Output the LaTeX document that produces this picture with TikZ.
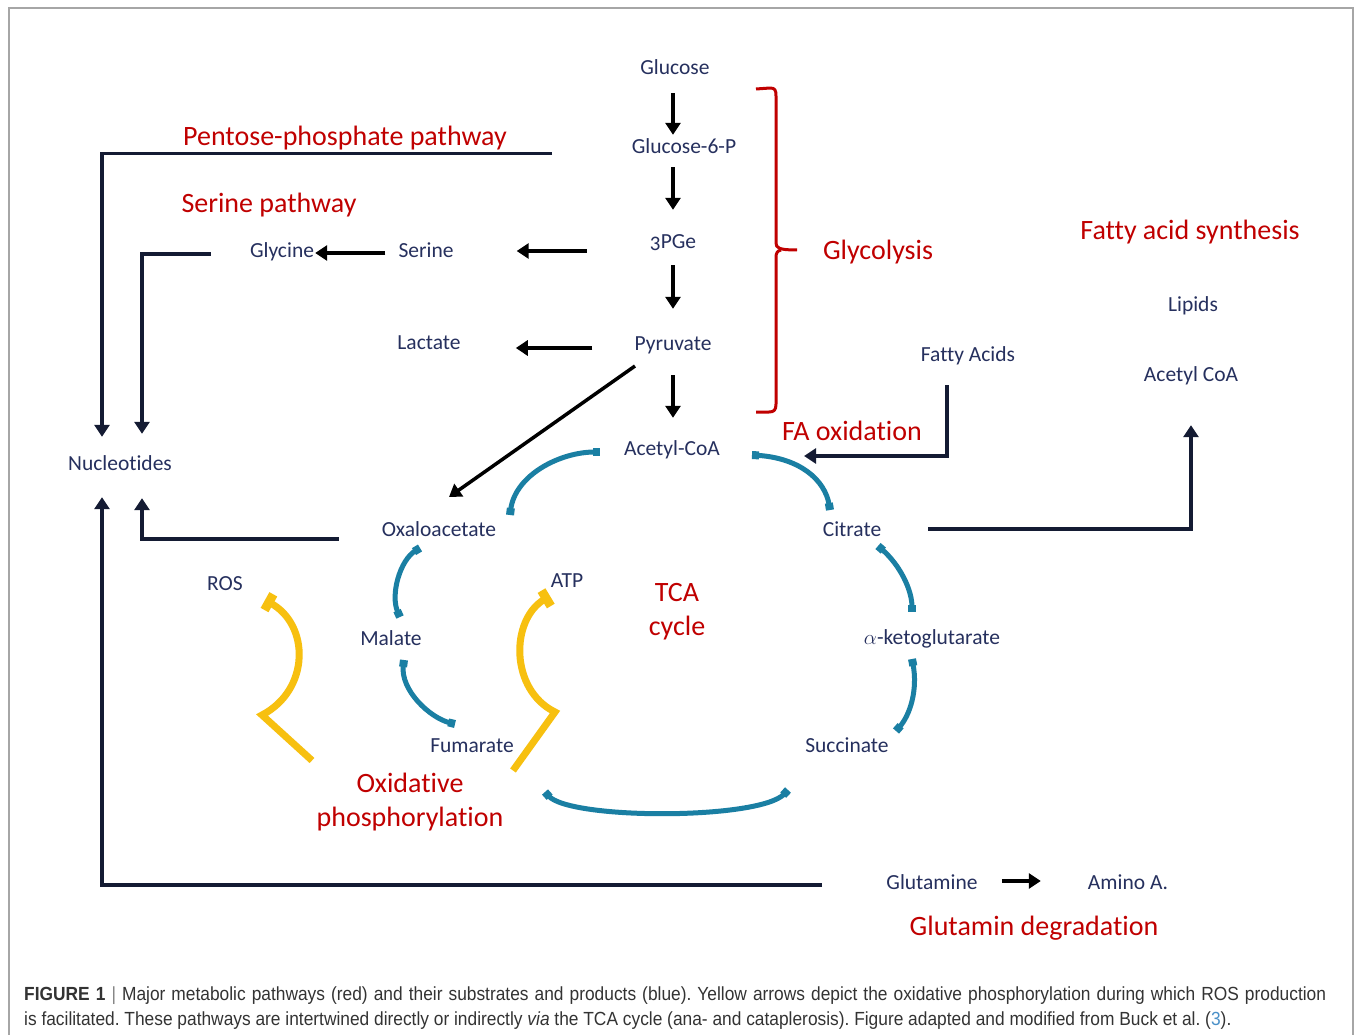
\documentclass[tikz,border=0pt]{standalone}
\usepackage{fontspec}
\setmainfont{Carlito}[Ligatures=NoCommon]
\newfontfamily\capfont[FakeStretch=0.913]{Liberation Sans}
\usetikzlibrary{arrows.meta,calc}
\definecolor{navy}{HTML}{26305E}
\definecolor{dred}{HTML}{C00000}
\definecolor{tealc}{HTML}{1A7FA3}
\definecolor{ylw}{HTML}{F7C010}
\definecolor{linec}{HTML}{141B33}
\definecolor{capc}{HTML}{333333}
\definecolor{capblue}{HTML}{4A90C8}
\frenchspacing
\begin{document}
\begin{tikzpicture}[x=1pt,y=-1pt,
  lbl/.style={text=navy,font=\fontsize{21.5}{24}\selectfont,inner sep=0pt,text height=18pt,text depth=2pt},
  pw/.style={text=dred,font=\fontsize{28}{34}\selectfont,inner sep=0pt,align=center,yshift=-2.5pt},
  blk/.style={draw=black,line width=3.5pt,-{Triangle[width=15pt,length=12pt]}},
  navyline/.style={draw=linec,line width=3.5pt,-{Triangle[width=15pt,length=12pt]}},
  tcaarc/.style={draw=tealc,line width=5pt,{Rectangle[length=7pt,width=8pt]}-{Rectangle[length=7pt,width=8pt]}},
  oxarr/.style={draw=ylw,line width=7pt,line join=miter,-{Rectangle[length=9pt,width=18pt]}},
  capline/.style={anchor=base west,inner sep=0pt,text=capc,font=\capfont\fontsize{19}{22}\selectfont}
]
\useasboundingbox (0,0) rectangle (1355,1035);
\fill[white] (0,0) rectangle (1355,1035);
\draw[gray!70,line width=1.5pt] (9,1035) -- (9,8) -- (1353,8) -- (1353,1035);

% substrates / products
\node[lbl] (glc) at (675,67) {Glucose};
\node[lbl] (g6p) at (684,146) {Glucose-6-P};
\node[lbl] (pge) at (673,241) {\addfontfeatures{Numbers=OldStyle}3PGe};
\node[lbl] (pyr) at (673,342) {Pyruvate};
\node[lbl] (acoa) at (672,447) {Acetyl-CoA};
\node[lbl] (ser) at (426,250) {Serine};
\node[lbl] (gly) at (282,250) {Glycine};
\node[lbl] (lac) at (429,341) {Lactate};
\node[lbl] (nuc) at (120,462) {Nucleotides};
\node[lbl] (oaa) at (439,528) {Oxaloacetate};
\node[lbl] (cit) at (852,528) {Citrate};
\node[lbl] (akg) at (932,636) {$\alpha$-ketoglutarate};
\node[lbl] (suc) at (847,744) {Succinate};
\node[lbl] (fum) at (472,744) {Fumarate};
\node[lbl] (mal) at (391,637) {Malate};
\node[lbl] (ros) at (225,582) {ROS};
\node[lbl] (atp) at (567,579) {ATP};
\node[lbl] (fa) at (968,353) {Fatty Acids};
\node[lbl] (lip) at (1193,303) {Lipids};
\node[lbl] (acoa2) at (1191,373) {Acetyl CoA};
\node[lbl] (gln) at (932,881) {Glutamine};
\node[lbl] (aa) at (1128,881) {Amino A.};

% pathways
\node[pw] (ppp) at (345,136) {Pentose-phosphate pathway};
\node[pw] (serp) at (269,203) {Serine pathway};
\node[pw] (glyc) at (878,250) {Glycolysis};
\node[pw] (fas) at (1190,230) {Fatty acid synthesis};
\node[pw] (fao) at (852,428) {FA oxidation};
\node[pw] (tca) at (677,609) {TCA\\cycle};
\node[pw] (oxp) at (410,800) {Oxidative\\phosphorylation};
\node[pw] (glnd) at (1034,926) {Glutamin degradation};

% glycolysis axis
\coordinate (ax) at (673,0);
\draw[blk,shorten <=16pt,shorten >=1pt] (glc.south -| ax) -- (g6p.north -| ax);
\draw[blk,shorten <=11pt,shorten >=21pt] (g6p.south -| ax) -- (pge.north -| ax);
\draw[blk,shorten <=14pt,shorten >=23pt] (pge.south -| ax) -- (pyr.north -| ax);
\draw[blk,shorten <=23pt,shorten >=19pt] (pyr.south -| ax) -- (acoa.north -| ax);

% side branches
\draw[blk] ($(pge.west |- ser.east)+(-63,1)$) -- ($(ser.east)+(63,1)$);
\draw[blk] ($(pyr.west)+(-42,6)$) -- ($(lac.east |- pyr.west)+(55,6)$);
\draw[blk] ($(ser.west)+(-13,3)$) -- ($(gly.east)+(1,3)$);
\draw[blk] ($(pyr)+(-38,24)$) -- ($(oaa)+(10,-31)$);

% fatty acids
\draw[navyline] ($(fa.south)+(-21,22)$) |- ($(acoa.east)+(84,9)$);
\draw[navyline] ($(cit.east)+(47,1)$) -| ($(acoa2.south)+(0,42)$);

% to nucleotides
\draw[navyline] ($(ppp.east)+(45,15)$) -| ($(nuc.north)+(-18,-15)$);
\draw[navyline] ($(gly.west)+(-39,4)$) -| ($(nuc.north)+(22,-18)$);
\draw[navyline] ($(oaa.west)+(-43,11)$) -| ($(nuc.south)+(22,26)$);
\draw[navyline] ($(gln.west)+(-64,4)$) -| ($(nuc.south)+(-18,25)$);
\draw[blk] ($(gln.east)+(24,0)$) -- ($(aa.west)+(-47,0)$);

% glycolysis brace
\draw[dred,line width=3pt,line join=round]
  (756,89) -- (770,88) .. controls (775,88) and (776,90) .. (776,96) -- (776,243)
  .. controls (776,248) and (779,250) .. (797,250);
\draw[dred,line width=3pt,line join=round]
  (781,250) .. controls (777,251) and (776,253) .. (776,258) -- (776,404)
  .. controls (776,410) and (774,412) .. (769,412) -- (756,412);

% TCA cycle arcs
\draw[tcaarc] ($(oaa)+(71,-13)$) .. controls ($(oaa)+(76,-53)$) and ($(acoa)+(-112,5)$) .. ($(acoa)+(-72,5)$);
\draw[tcaarc] ($(acoa)+(80,8)$) .. controls ($(acoa)+(128,11)$) and ($(cit)+(-27,-48)$) .. ($(cit)+(-22,-18)$);
\draw[tcaarc] ($(cit)+(26,18)$) .. controls ($(cit)+(48,37)$) and ($(akg)+(-20,-46)$) .. ($(akg)+(-20,-24)$);
\draw[tcaarc] ($(akg)+(-20,23)$) .. controls ($(akg)+(-14,54)$) and ($(suc)+(63,-29)$) .. ($(suc)+(49,-13)$);
\draw[tcaarc] ($(suc)+(-59,46)$) .. controls ($(suc)+(-87,76)$) and ($(fum)+(98,76)$) .. ($(fum)+(73,48)$);
\draw[tcaarc] ($(fum)+(-17,-20)$) .. controls ($(fum)+(-42,-26)$) and ($(mal)+(9,53)$) .. ($(mal)+(13,23)$);
\draw[tcaarc] ($(mal)+(9,-20)$) .. controls ($(mal)+(-1,-42)$) and ($(oaa)+(-39,32)$) .. ($(oaa)+(-19,20)$);

% oxidative phosphorylation (yellow)
\draw[oxarr] ($(oxp)+(-98,-42)$) -- ($(ros)+(37,133)$) .. controls ($(ros)+(85,108)$) and ($(ros)+(85,43)$) .. ($(ros)+(40,18)$);
\draw[oxarr] ($(oxp)+(103,-32)$) -- ($(atp)+(-12,133)$) .. controls ($(atp)+(-57,111)$) and ($(atp)+(-57,41)$) .. ($(atp)+(-17,17)$);

% caption
\node[capline] (cap1) at (24,1000) {\makebox[1302pt][s]{\textbf{FIGURE 1} {\color{gray}|} Major metabolic pathways (red) and their substrates and products (blue). Yellow arrows depict the oxidative phosphorylation during which ROS production}};
\node[capline] (cap2) at (24,1025) {is facilitated. These pathways are intertwined directly or indirectly \textit{via} the TCA cycle (ana- and cataplerosis). Figure adapted and modified from Buck et al. (\textcolor{capblue}{3}).};
\end{tikzpicture}
\end{document}
